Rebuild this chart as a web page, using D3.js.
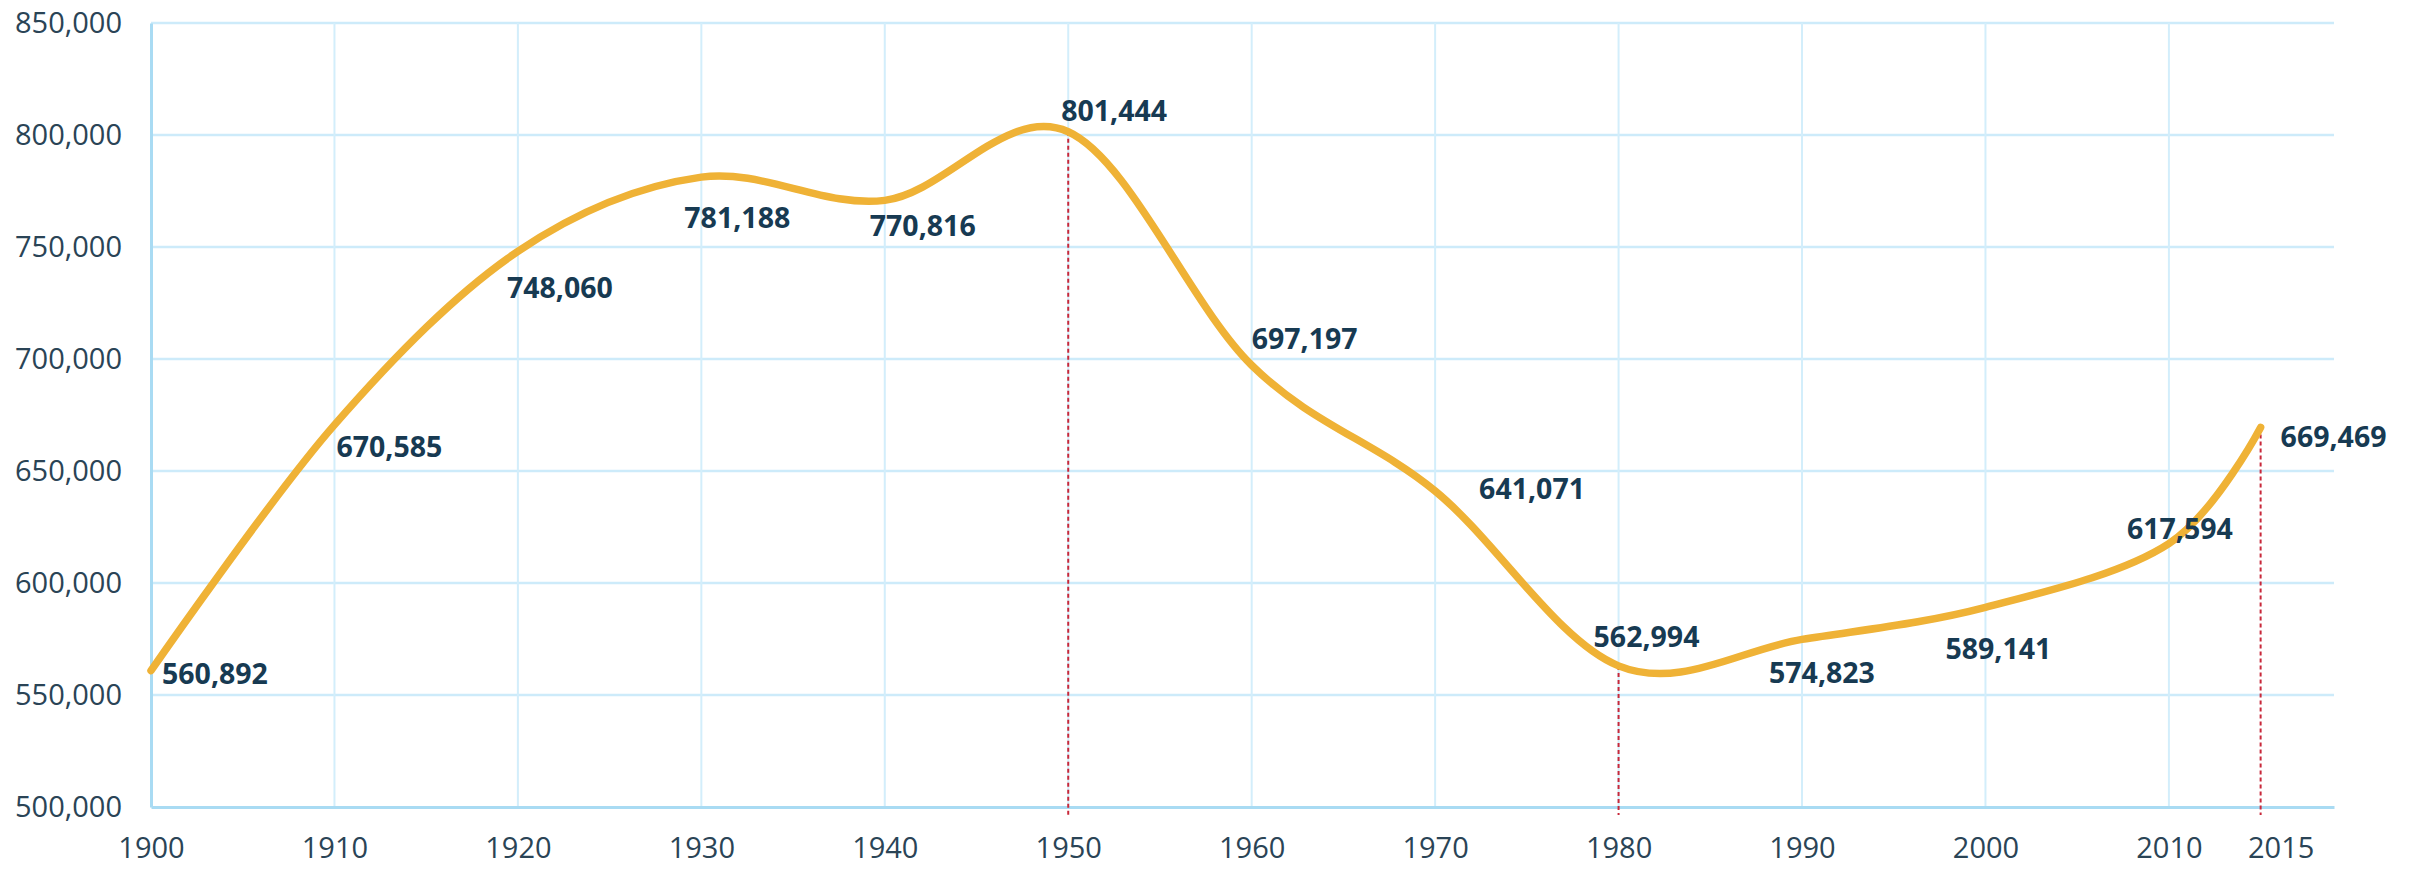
<!DOCTYPE html>
<meta charset="utf-8">
<style>
body { margin: 0; background: #fff; }
.tick text { font: 29px "Open Sans", sans-serif; fill: #2a4456; }
.lbl { font: bold 28.5px "Open Sans", sans-serif; fill: #173a52; }
</style>
<body>
<script src="https://d3js.org/d3.v7.min.js"></script>
<script>

// data
let years = [1900, 1910, 1920, 1930, 1940, 1950, 1960, 1970, 1980, 1990, 2000, 2010, 2015];
let population = [560892, 670585, 748060, 781188, 770816, 801444, 697197, 641071, 562994, 574823, 589141, 617594, 669469];
let markedYears = [1950, 1980, 2015];
let yTicks = [500000, 550000, 600000, 650000, 700000, 750000, 800000, 850000];
let xTicks = [1900, 1910, 1920, 1930, 1940, 1950, 1960, 1970, 1980, 1990, 2000, 2010, 2015];

// label placement relative to each point (left edge dx, vertical centre dy)
let labelOffsets = [[11, 3], [2, 22], [-11, 36], [-17, 41], [-15, 25], [-7, -21], [0, -27],
                    [44, -2], [-25, -29], [-33, 33], [-40, 41], [-42, -15], [20, 9]];

let width = 2413;
let height = 872;

let svg = d3.select("body").append("svg")
    .attr("width", width)
    .attr("height", height);

let x = d3.scaleLinear().domain([1900, 2019]).range([151, 2334]);
let y = d3.scaleLinear().domain([500000, 850000]).range([807, 23]);

let data = years.map((yr, i) => ({ year: yr, value: population[i] }));

// horizontal grid
svg.append("g").selectAll("line")
  .data(yTicks.slice(1))
  .enter().append("line")
    .attr("x1", x(1900)).attr("x2", x(2019))
    .attr("y1", d => y(d)).attr("y2", d => y(d))
    .style("stroke", "#cdebfa")
    .style("stroke-width", 2.5);

// vertical grid
svg.append("g").selectAll("line")
  .data(d3.range(1910, 2011, 10))
  .enter().append("line")
    .attr("x1", d => x(d)).attr("x2", d => x(d))
    .attr("y1", y(850000)).attr("y2", y(500000))
    .style("stroke", "#d3eefb")
    .style("stroke-width", 2);

// axes
let yAxis = svg.append("g")
    .attr("transform", "translate(" + x(1900) + ",0)")
    .call(d3.axisLeft(y).tickValues(yTicks).tickFormat(d3.format(",")).tickSize(0).tickPadding(29));
yAxis.select(".domain").style("stroke", "#a9dbf3").style("stroke-width", 3);

let xAxis = svg.append("g")
    .attr("transform", "translate(0," + y(500000) + ")")
    .call(d3.axisBottom(x).tickValues(xTicks).tickFormat(d3.format("d")).tickSize(0).tickPadding(30));
xAxis.select(".domain").style("stroke", "#a9dbf3").style("stroke-width", 3);
xAxis.selectAll(".tick text").filter(d => d == 2015).attr("dx", 20);

// dashed markers
svg.append("g").selectAll("line")
  .data(data.filter(d => markedYears.includes(d.year)))
  .enter().append("line")
    .attr("x1", d => x(d.year)).attr("x2", d => x(d.year))
    .attr("y1", d => y(d.value)).attr("y2", y(500000) + 8)
    .style("stroke", "#c8283a")
    .style("stroke-width", 2)
    .style("stroke-dasharray", "4,3");

// smoothed line
let line = d3.line()
    .x(d => x(d.year))
    .y(d => y(d.value))
    .curve(d3.curveCardinal.tension(0));

svg.append("path")
    .datum(data)
    .attr("d", line)
    .style("fill", "none")
    .style("stroke", "#efb236")
    .style("stroke-width", 7.5)
    .style("stroke-linecap", "round");

// value labels
svg.append("g").selectAll("text")
  .data(data)
  .enter().append("text")
    .attr("class", "lbl")
    .attr("x", (d, i) => x(d.year) + labelOffsets[i][0])
    .attr("y", (d, i) => y(d.value) + labelOffsets[i][1])
    .attr("dy", "0.36em")
    .text(d => d3.format(",")(d.value));

</script>
